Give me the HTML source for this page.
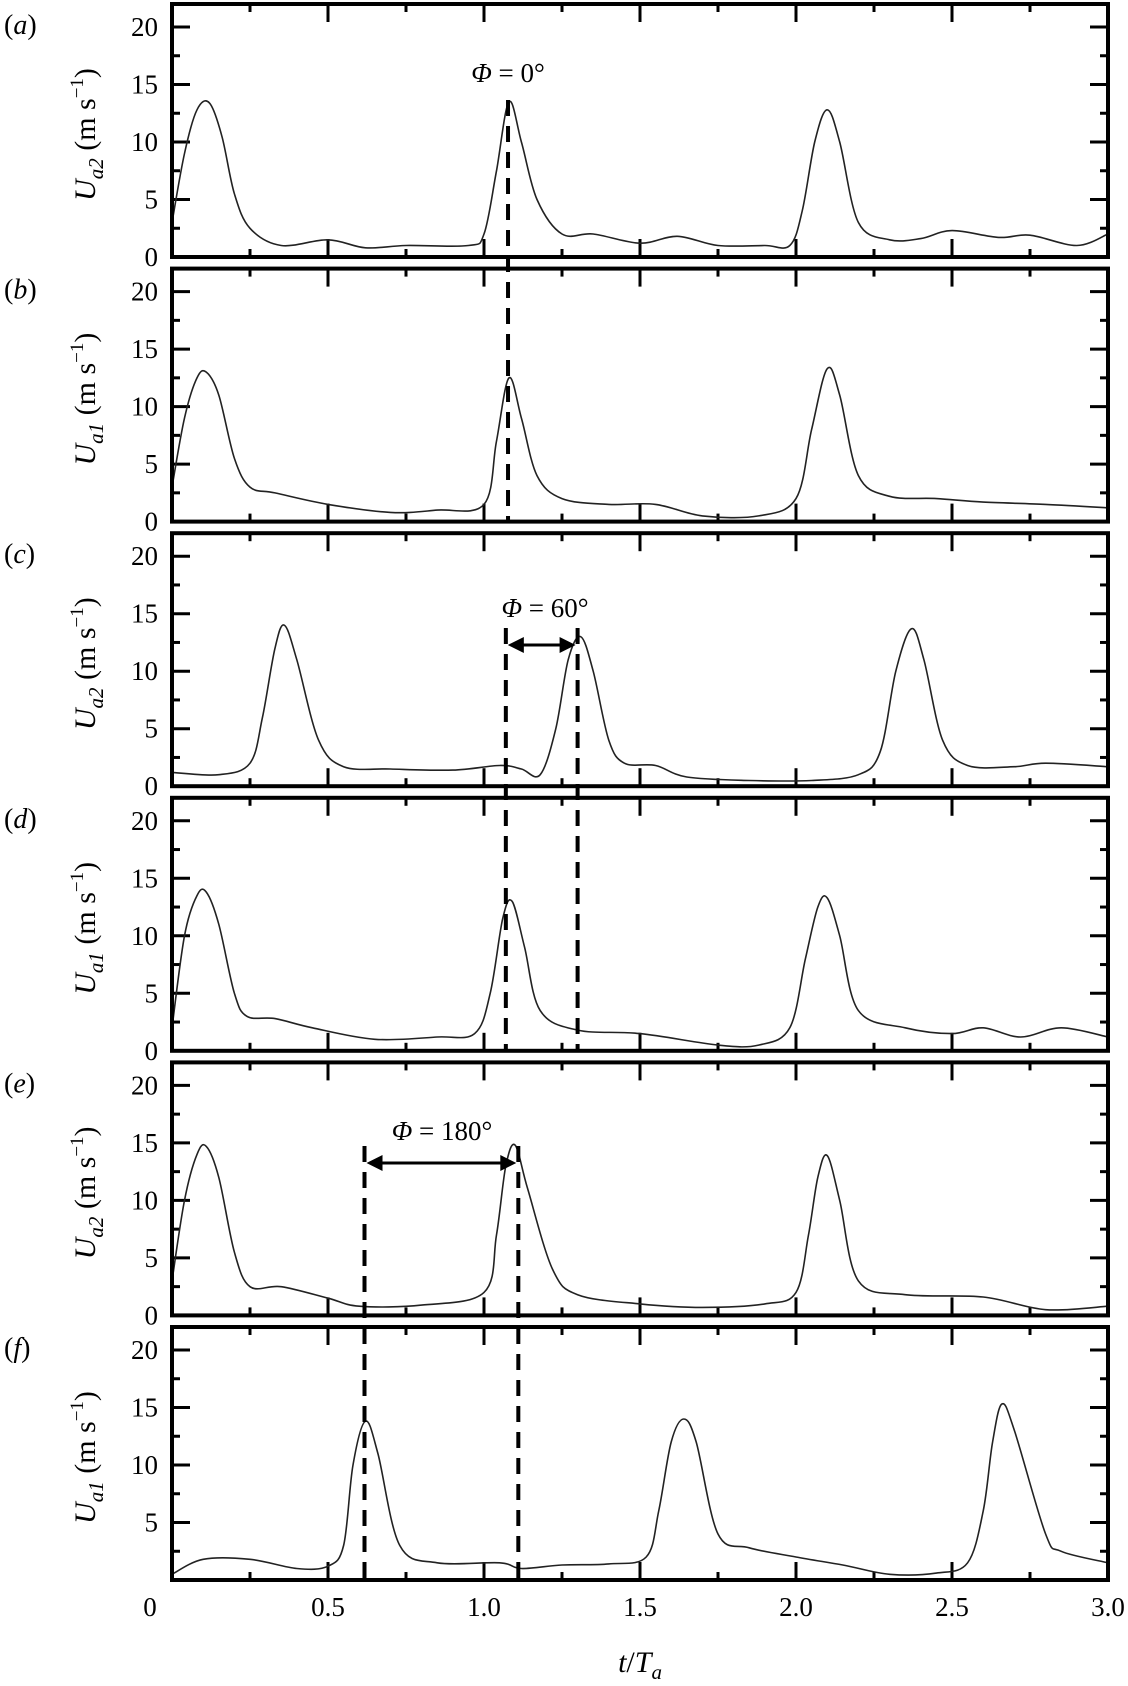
<!DOCTYPE html>
<html><head><meta charset="utf-8">
<style>
html,body{margin:0;padding:0;background:#fff;}
svg{display:block;}
svg text{font-family:"Liberation Serif","DejaVu Serif",serif;}
</style></head>
<body>
<svg id="chart" width="1128" height="1686" viewBox="0 0 1128 1686" xmlns="http://www.w3.org/2000/svg" font-family="Liberation Serif, DejaVu Serif, serif"></svg>
<script>
// ---- data ----
const panelLetters = ["a","b","c","d","e","f"];
const seriesSubs = ["a2","a1","a2","a1","a2","a1"];
const xTickLabels = ["0","0.5","1.0","1.5","2.0","2.5","3.0"];
const xTickValues = [0,0.5,1,1.5,2,2.5,3];
const yTickValues = [0,5,10,15,20];

const tA = [0,0.04,0.08,0.12,0.16,0.2,0.25,0.35,0.5,0.62,0.75,0.95,1.0,1.04,1.08,1.12,1.17,1.25,1.35,1.5,1.62,1.75,1.9,1.98,2.02,2.06,2.1,2.14,2.2,2.3,2.4,2.5,2.65,2.75,2.9,3.0];
const uA = [3,9,12.8,13.4,10.5,5.5,2.5,1,1.5,0.8,1,1,2,7.5,13.5,10,5,2,2,1.2,1.8,1,1,1,4,10,12.8,10,3,1.5,1.6,2.3,1.7,1.9,1,2];

const tB = [0,0.04,0.08,0.11,0.15,0.2,0.25,0.33,0.5,0.7,0.85,1.0,1.04,1.08,1.12,1.17,1.25,1.4,1.55,1.7,1.88,2.0,2.05,2.1,2.14,2.2,2.3,2.45,2.6,2.8,3.0];
const uB = [3,9,12.5,13,11,5.5,3,2.5,1.5,0.8,1,1.5,7,12.5,9,4,2,1.5,1.5,0.5,0.5,2,8,13.3,11,4,2.2,2,1.7,1.5,1.2];

const tC = [0,0.15,0.25,0.29,0.33,0.36,0.4,0.47,0.55,0.7,0.9,1.05,1.12,1.18,1.23,1.27,1.31,1.35,1.4,1.45,1.55,1.65,1.85,2.05,2.2,2.27,2.32,2.37,2.41,2.47,2.55,2.7,2.8,3.0];
const uC = [1.2,1,2,6,12,14,11,4,1.7,1.5,1.4,1.8,1.5,1,5,11,13,10,4,2,1.8,0.8,0.5,0.5,1,3,10,13.7,11,4,1.8,1.7,2,1.7];

const tD = [0,0.04,0.08,0.11,0.15,0.2,0.24,0.33,0.45,0.65,0.85,0.97,1.02,1.06,1.09,1.13,1.18,1.3,1.5,1.75,1.88,1.98,2.03,2.07,2.1,2.14,2.2,2.35,2.5,2.6,2.72,2.85,3.0];
const uD = [2,10,13.5,13.8,11,5,3,2.8,2,1,1.2,1.5,5,11.5,13,9,3.5,1.8,1.5,0.5,0.5,2,8,12.5,13.3,10,3.5,2,1.5,2,1.2,2,1.2];

const tE = [0,0.04,0.08,0.11,0.15,0.2,0.25,0.35,0.5,0.6,0.8,1.0,1.04,1.07,1.1,1.14,1.22,1.3,1.5,1.7,1.9,2.0,2.04,2.07,2.1,2.14,2.2,2.35,2.6,2.8,3.0];
const uE = [3,10,14,14.7,12,5.5,2.5,2.5,1.5,0.8,0.9,2,7,13,14.8,11,4,1.8,1,0.7,1,2,7,12,13.9,10,3,1.8,1.6,0.5,0.8];

const tF = [0,0.1,0.25,0.4,0.5,0.55,0.58,0.62,0.66,0.73,0.85,1.05,1.12,1.25,1.4,1.52,1.56,1.6,1.64,1.68,1.75,1.85,2.0,2.15,2.3,2.45,2.55,2.6,2.63,2.66,2.7,2.8,2.85,3.0];
const uF = [0.5,1.8,1.8,1,1.2,3,10,13.8,11,3,1.5,1.5,1,1.3,1.4,2,6,12,14,12,4,2.8,2,1.3,0.5,0.6,1.5,6,12,15.3,13,4,2.5,1.5];

const seriesT = [tA,tB,tC,tD,tE,tF];
const seriesU = [uA,uB,uC,uD,uE,uF];

// ---- layout ----
const svg = document.getElementById('chart');
const NS = 'http://www.w3.org/2000/svg';
const FF = '"Liberation Serif","DejaVu Serif",serif';
const X0 = 172, X1 = 1108, PITCH = 264.6, PH = 253, TOP0 = 4;
function xs(t){ return X0 + (X1-X0)*t/3; }
function panelTop(i){ return TOP0 + PITCH*i; }
function ys(i,u){ const b = panelTop(i)+PH; return b - (PH-23)*u/20; }
function mk(tag, attrs, parent){ const e=document.createElementNS(NS,tag); for(const k in attrs) e.setAttribute(k,attrs[k]); if(tag==='text') e.setAttribute('font-family',FF); (parent||svg).appendChild(e); return e; }
function smooth(pts){
  let d = `M${pts[0][0]},${pts[0][1]}`;
  for(let i=0;i<pts.length-1;i++){
    const p0=pts[Math.max(0,i-1)], p1=pts[i], p2=pts[i+1], p3=pts[Math.min(pts.length-1,i+2)];
    const c1=[p1[0]+(p2[0]-p0[0])/6, p1[1]+(p2[1]-p0[1])/6];
    const c2=[p2[0]-(p3[0]-p1[0])/6, p2[1]-(p3[1]-p1[1])/6];
    d += `C${c1[0].toFixed(1)},${c1[1].toFixed(1)} ${c2[0].toFixed(1)},${c2[1].toFixed(1)} ${p2[0].toFixed(1)},${p2[1].toFixed(1)}`;
  }
  return d;
}

for(let i=0;i<6;i++){
  const g = mk('g',{});
  
  
  const top = panelTop(i), bot = top+PH;
  for(let k=1;k<12;k++){
    const t = k*0.25, x = xs(t), len = (k%2===0)?18:8;
    mk('line',{x1:x,y1:top,x2:x,y2:top+len,stroke:'#000','stroke-width':3},g);
    mk('line',{x1:x,y1:bot,x2:x,y2:bot-len,stroke:'#000','stroke-width':3},g);
  }
  for(let k=1;k<=8;k++){
    const u=k*2.5, y=ys(i,u), len=(k%2===0)?18:8;
    mk('line',{x1:X0,y1:y,x2:X0+len,y2:y,stroke:'#000','stroke-width':3},g);
    mk('line',{x1:X1,y1:y,x2:X1-len,y2:y,stroke:'#000','stroke-width':3},g);
  }
  const pts = seriesT[i].map((t,j)=>[xs(t), ys(i,seriesU[i][j])]);
  const p = mk('path',{d:smooth(pts),fill:'none',stroke:'#222','stroke-width':1.6},g);
  
  
  const fr = mk('rect',{x:X0,y:top,width:X1-X0,height:PH,fill:'none',stroke:'#000','stroke-width':4},g);
  
  
  yTickValues.forEach(v=>{
    if(i===5 && v===0) return;
    const tx = mk('text',{x:158,y:ys(i,v)+9,'text-anchor':'end','font-size':27},g);
    tx.textContent = v;
    
    
  });
  const pl = mk('text',{x:4,y:top+30,'font-size':28},g);
  pl.innerHTML = '(<tspan font-style="italic">'+panelLetters[i]+'</tspan>)';
  
  
  const cy = top+PH/2+4;
  const yt = mk('text',{x:0,y:0,'font-size':30,'text-anchor':'middle',transform:`translate(95,${cy}) rotate(-90)`},g);
  yt.innerHTML = '<tspan font-style="italic">U</tspan><tspan font-style="italic" font-size="21" dy="8">'+seriesSubs[i]+'</tspan><tspan dy="-8"> (m s</tspan><tspan font-size="19" dy="-12">−1</tspan><tspan dy="12">)</tspan>';
  
  
}

xTickValues.forEach((v,k)=>{
  const x = (v===0) ? xs(v)-22 : xs(v);
  const tx = mk('text',{x:x,y:1616,'text-anchor':'middle','font-size':27});
  tx.textContent = xTickLabels[k];
  
  
});
const xt = mk('text',{x:640,y:1672,'text-anchor':'middle','font-size':30});
xt.innerHTML = '<tspan font-style="italic">t</tspan>/<tspan font-style="italic">T</tspan><tspan font-style="italic" font-size="21" dy="7">a</tspan>';



function dash(t, y1, y2, name){
  const l = mk('line',{x1:xs(t),y1:y1,x2:xs(t),y2:y2,stroke:'#000','stroke-width':4,'stroke-dasharray':'16 10'});
  
  
}
function arrow(t1,t2,y,name){
  const x1=xs(t1)+2, x2=xs(t2)-2;
  const g = mk('g',{});
  
  
  mk('line',{x1:x1+10,y1:y,x2:x2-10,y2:y,stroke:'#000','stroke-width':3},g);
  mk('polygon',{points:`${x1},${y} ${x1+16},${y-8} ${x1+16},${y+8}`,fill:'#000'},g);
  mk('polygon',{points:`${x2},${y} ${x2-16},${y-8} ${x2-16},${y+8}`,fill:'#000'},g);
}
function label(x,y,txt,name){
  const t = mk('text',{x:x,y:y,'text-anchor':'middle','font-size':27});
  t.innerHTML = '<tspan font-style="italic">Φ</tspan> = '+txt;
  
  
}
dash(1.077, 100, panelTop(1)+PH, 'phase-0-dashed-line');
label(508, 82, '0°', 'phase-0-label');
dash(1.07, 628, panelTop(3)+PH, 'phase-60-dashed-line-left');
dash(1.30, 628, panelTop(3)+PH, 'phase-60-dashed-line-right');
arrow(1.07, 1.30, 645, 'phase-60-arrow');
label(545, 617, '60°', 'phase-60-label');
dash(0.617, 1146, panelTop(5)+PH, 'phase-180-dashed-line-left');
dash(1.11, 1146, panelTop(5)+PH, 'phase-180-dashed-line-right');
arrow(0.617, 1.11, 1163, 'phase-180-arrow');
label(442, 1140, '180°', 'phase-180-label');
</script>
</body></html>
